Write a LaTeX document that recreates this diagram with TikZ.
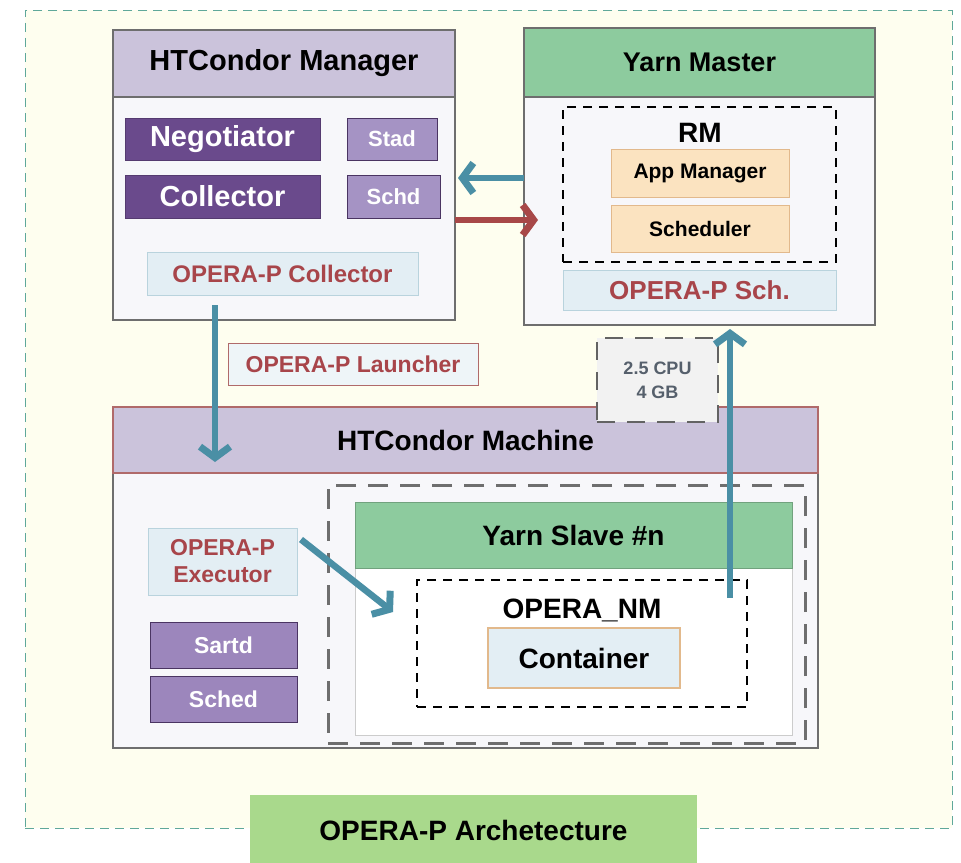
\documentclass[tikz,border=0pt]{standalone}
\usepackage{fontspec}
\setmainfont{Liberation Sans}
\usetikzlibrary{arrows.meta}
\definecolor{frameC}{HTML}{5FA89A}
\definecolor{creamC}{HTML}{FEFEEF}
\definecolor{lavC}{HTML}{CBC3DB}
\definecolor{bodyC}{HTML}{F7F7FA}
\definecolor{edgeC}{HTML}{6E6E6E}
\definecolor{dpurC}{HTML}{6A4A8C}
\definecolor{lpurC}{HTML}{A593C4}
\definecolor{mpurC}{HTML}{9C86BC}
\definecolor{lblueC}{HTML}{E3EEF4}
\definecolor{lbedgeC}{HTML}{B9D3DD}
\definecolor{redtC}{HTML}{A8454A}
\definecolor{greenC}{HTML}{8DCB9E}
\definecolor{peachC}{HTML}{FBE3C0}
\definecolor{peachEC}{HTML}{E2B98C}
\definecolor{tealC}{HTML}{4A8FA5}
\definecolor{redaC}{HTML}{A84848}
\definecolor{labgC}{HTML}{A9D98C}
\definecolor{cpuC}{HTML}{56606C}
\definecolor{machEC}{HTML}{B06A6A}
\tikzset{
  base/.style={rectangle, inner sep=0pt, outer sep=0pt, anchor=north west, font=\bfseries},
  panel/.style={base, draw=edgeC, line width=1.2pt, fill=bodyC},
  head/.style={base, draw=edgeC, line width=1.2pt, fill=lavC, text=black},
  dark/.style={base, fill=dpurC, draw=dpurC!80!black, text=white},
  light/.style={base, fill=lpurC, draw=dpurC!70!black, text=white},
  lbox/.style={base, fill=lblueC, draw=lbedgeC, line width=1pt, text=redtC},
  peach/.style={base, fill=peachC, draw=peachEC, line width=1pt, text=black},
  ghead/.style={base, fill=greenC, draw=greenC!80!black, text=black},
  dbox/.style={base, draw=black, dashed, dash pattern=on 9pt off 7pt, line width=1.6pt},
  fatarrow/.style={line width=6.5pt, -{Straight Barb[length=11pt,width=30pt,line width=7pt]}},
}
\begin{document}
\begin{tikzpicture}[x=1pt,y=-1pt]
\useasboundingbox (0,0) rectangle (961,862);
\fill[white] (0,0) rectangle (961,862);
% outer frame
\node[base, draw=frameC, fill=creamC, dashed, dash pattern=on 9pt off 6pt, line width=1pt,
  minimum width=927pt, minimum height=818pt] (frame) at (25,10) {};
% HTCondor Manager
\node[panel, minimum width=342pt, minimum height=290pt] (hm) at (113,30) {};
\node[head, minimum width=342pt, minimum height=67pt, font=\bfseries\fontsize{29}{32}\selectfont] (hmh) at (113,30) {HTCondor Manager};
\node[dark, minimum width=195pt, minimum height=42pt, font=\bfseries\fontsize{29}{32}\selectfont] (neg) at (125,118) {Negotiator};
\node[light, minimum width=90pt, minimum height=42pt, font=\bfseries\fontsize{22}{24}\selectfont] (stad) at (347,118) {Stad};
\node[dark, minimum width=195pt, minimum height=43pt, font=\bfseries\fontsize{29}{32}\selectfont] (col) at (125,175) {Collector};
\node[light, minimum width=93pt, minimum height=43pt, font=\bfseries\fontsize{22}{24}\selectfont] (schd) at (347,175) {Schd};
\node[lbox, minimum width=271pt, minimum height=43pt, font=\bfseries\fontsize{24}{26}\selectfont] (opc) at (147,252) {OPERA-P Collector};
% Yarn Master
\node[panel, minimum width=351pt, minimum height=297pt] (ym) at (524,28) {};
\node[ghead, draw=edgeC, line width=1.2pt, minimum width=351pt, minimum height=69pt, font=\bfseries\fontsize{27}{30}\selectfont] (ymh) at (524,28) {Yarn Master};
\node[dbox, minimum width=273pt, minimum height=155pt] (rm) at (563,107) {};
\node[base, anchor=center, font=\bfseries\fontsize{28}{30}\selectfont] (rmt) at (700,133) {RM};
\node[peach, minimum width=178pt, minimum height=48pt, font=\bfseries\fontsize{21}{24}\selectfont] (app) at (611,149) {App Manager};
\node[peach, minimum width=178pt, minimum height=47pt, font=\bfseries\fontsize{21}{24}\selectfont] (sch) at (611,205) {Scheduler};
\node[lbox, minimum width=273pt, minimum height=40pt, font=\bfseries\fontsize{26}{28}\selectfont] (ops) at (563,270) {OPERA-P Sch.};
% Launcher label
\node[lbox, fill=lblueC!60!white, draw=machEC, minimum width=250pt, minimum height=42pt, font=\bfseries\fontsize{23}{26}\selectfont] (lau) at (228,343) {OPERA-P Launcher};
% HTCondor Machine
\node[panel, minimum width=705pt, minimum height=341pt] (mach) at (113,407) {};
\node[head, draw=machEC, minimum width=705pt, minimum height=66pt, font=\bfseries\fontsize{28}{31}\selectfont] (machh) at (113,407) {HTCondor Machine};
\node[base, fill=gray!10, draw=edgeC!90!black, dashed, dash pattern=on 18pt off 12pt, line width=2.5pt,
  minimum width=121pt, minimum height=84pt, align=center, text=cpuC, font=\bfseries\fontsize{18}{24}\selectfont] (cpu) at (597,338) {2.5 CPU\\4 GB};
\node[lbox, minimum width=149pt, minimum height=67pt, align=center, font=\bfseries\fontsize{23}{27}\selectfont] (exe) at (148,528) {OPERA-P\\Executor};
\node[base, fill=mpurC, draw=dpurC!70!black, text=white, minimum width=147pt, minimum height=46pt, font=\bfseries\fontsize{23}{26}\selectfont] (sartd) at (150,622) {Sartd};
\node[base, fill=mpurC, draw=dpurC!70!black, text=white, minimum width=147pt, minimum height=46pt, font=\bfseries\fontsize{23}{26}\selectfont] (sched) at (150,676) {Sched};
\node[base, draw=edgeC, dashed, dash pattern=on 20pt off 12pt, line width=3pt, minimum width=477pt, minimum height=258pt] (slv) at (328,485) {};
\node[base, fill=white, draw=gray!40, line width=1pt, minimum width=437pt, minimum height=233pt] (ys) at (355,502) {};
\node[ghead, minimum width=437pt, minimum height=66pt, font=\bfseries\fontsize{28}{31}\selectfont] (ysh) at (355,502) {Yarn Slave \#n};
\node[dbox, minimum width=330pt, minimum height=127pt] (nm) at (417,580) {};
\node[base, anchor=center, font=\bfseries\fontsize{28}{30}\selectfont] (nmt) at (582,610) {OPERA\_NM};
\node[base, fill=lblueC, draw=peachEC, line width=1.2pt, minimum width=192pt, minimum height=60pt, font=\bfseries\fontsize{28}{30}\selectfont] (cont) at (488,628) {Container};
% bottom label
\node[base, fill=labgC, minimum width=447pt, minimum height=70pt, font=\bfseries\fontsize{28}{30}\selectfont] (lab) at (250,795) {OPERA-P Archetecture};
% arrows
\draw[fatarrow, tealC] (ym.west |- 0,178) -- ([xshift=3pt]hm.east |- 0,178);
\draw[fatarrow, redaC] (hm.east |- 0,220) -- ([xshift=14pt]ym.west |- 0,220);
\coordinate (dx) at (215,0);
\draw[fatarrow, tealC] ([yshift=-10pt]opc.south -| dx) -- ([yshift=-55pt]machh.north -| dx);
\coordinate (ux) at (730,598);
\draw[fatarrow, tealC] (ux) -- ([yshift=-4pt]ym.south -| ux);
\draw[fatarrow, tealC] ([shift={(4pt,22pt)}]exe.east) -- ([shift={(-24pt,-32pt)}]nm.north west);
\end{tikzpicture}
\end{document}
